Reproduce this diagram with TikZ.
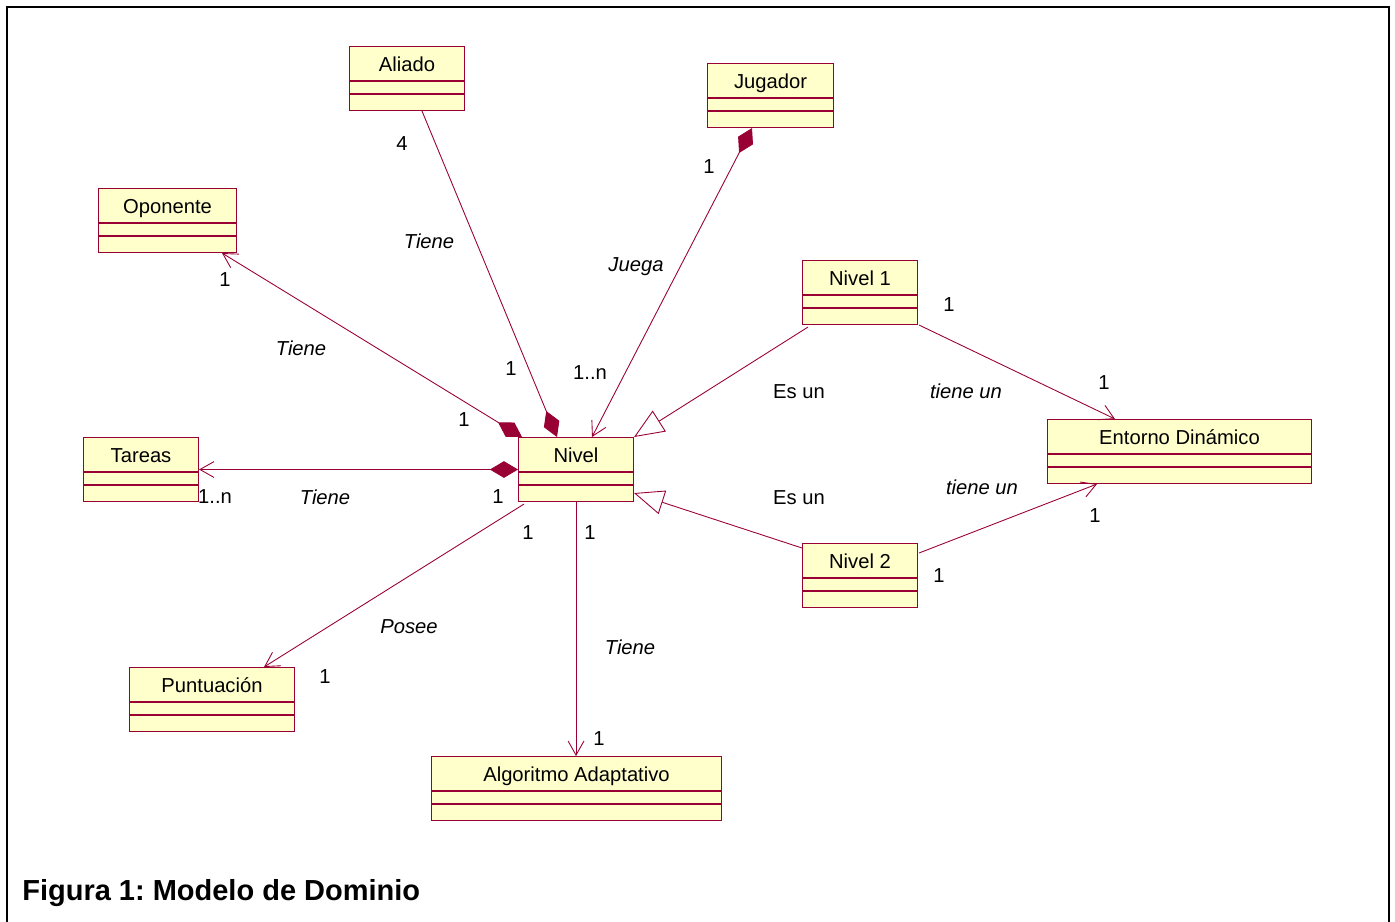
\documentclass[tikz,border=0pt]{standalone}
\usepackage{fontspec}
\setmainfont{Liberation Sans}
\usetikzlibrary{arrows.meta, positioning, calc}
\definecolor{umlred}{RGB}{153,0,51}
\definecolor{umlyellow}{RGB}{255,255,204}
\frenchspacing

\tikzset{
  classbox/.style={draw=umlred, fill=umlyellow, line width=0.6pt, anchor=north west,
    inner xsep=0pt, inner ysep=0pt, text height=0.5cm, text depth=0.78cm,
    font=\fontsize{11.5}{13}\selectfont},
  assoc/.style={draw=umlred, line width=0.5pt},
  comp/.tip={Diamond[length=16pt, width=9.5pt, fill=umlred]},
  nav/.tip={Straight Barb[length=8pt, width=9pt]},
  gen/.tip={Triangle[open, length=17pt, width=14pt, fill=white]},
  mult/.style={font=\fontsize{11.5}{13}\selectfont, inner sep=1pt},
  role/.style={font=\fontsize{11.5}{13}\selectfont\itshape, inner sep=1pt}
}

\begin{document}
\begin{tikzpicture}[x=0.02cm, y=-0.02cm]
  \useasboundingbox (0,0) rectangle (1395,922);
  \draw[line width=0.04cm] (7,930) -- (7,7) -- (1389,7) -- (1389,930);

  % classes
  \node[classbox, minimum width=2.3cm] (aliado) at (349,46) {Aliado};
  \node[classbox, minimum width=2.52cm] (jugador) at (707,63) {Jugador};
  \node[classbox, minimum width=2.76cm] (oponente) at (98,188) {Oponente};
  \node[classbox, minimum width=2.3cm] (tareas) at (83,437) {Tareas};
  \node[classbox, minimum width=2.3cm] (nivel) at (518,437) {Nivel};
  \node[classbox, minimum width=2.3cm] (nivel1) at (802,260) {Nivel 1};
  \node[classbox, minimum width=2.3cm] (nivel2) at (802,543) {Nivel 2};
  \node[classbox, minimum width=5.28cm] (entorno) at (1047,419) {Entorno Dinámico};
  \node[classbox, minimum width=3.3cm] (puntuacion) at (129,667) {Puntuación};
  \node[classbox, minimum width=5.8cm] (algoritmo) at (431,756) {Algoritmo Adaptativo};

  \foreach \c in {aliado,jugador,oponente,tareas,nivel,nivel1,nivel2,entorno,puntuacion,algoritmo} {
    \draw[umlred, line width=0.6pt] ($(\c.north west)+(0,35)$) -- ($(\c.north east)+(0,35)$);
    \draw[umlred, line width=0.6pt] ($(\c.north west)+(0,48)$) -- ($(\c.north east)+(0,48)$);
  }

  % associations
  \draw[assoc, {comp}-] ($(nivel.north west)+(39,0)$) -- ($(aliado.south west)+(73,0)$);
  \draw[assoc, {comp}-{nav}] ($(jugador.south west)+(45,0)$) -- ($(nivel.north west)+(74,0)$);
  \draw[assoc, {comp}-{nav}] ($(nivel.north west)+(4,0)$) -- ($(oponente.south west)+(124,0)$);
  \draw[assoc, {comp}-{nav}] (nivel.west) -- (tareas.east);
  \draw[assoc, -{nav}] ($(nivel.south west)+(6,2)$) -- ($(puntuacion.north west)+(135,0)$);
  \draw[assoc, -{nav}] (nivel.south) -- (nivel.south |- algoritmo.north);
  \draw[assoc, -{gen}] ($(nivel1.south west)+(6,2)$) -- (nivel.north east);
  \draw[assoc, -{gen}] ($(nivel2.north west)+(0,5)$) -- ($(nivel.south east)+(0,-9)$);
  \draw[assoc, -{nav}] ($(nivel1.south east)+(1,0)$) -- ($(entorno.north west)+(68,0)$);
  \draw[assoc, -{nav}] ($(nivel2.north east)+(1,10)$) -- ($(entorno.south west)+(50,0)$);

  % multiplicities
  \foreach \x/\y/\t [count=\i] in {402/144/4, 511/369/1, 709/167/1, 590/373/1..n,
      225/280/1, 464/420/1, 215/497/1..n, 498/497/1, 528/533/1, 325/677/1,
      590/533/1, 599/739/1, 949/305/1, 1104/383/1, 1095/516/1, 939/576/1}
    \node[mult] (m\i) at (\x,\y) {\t};

  % roles
  \foreach \x/\y/\t [count=\i] in {429/241/Tiene, 636/267/Juega, 301/348/Tiene,
      325/497/Tiene, 409/627/Posee, 630/647/Tiene, 966/391/tiene un, 982/487/tiene un}
    \node[role] (r\i) at (\x,\y) {\t};
  \node[mult] (g1) at (799,392) {Es un};
  \node[mult] (g2) at (799,498) {Es un};

  \node[anchor=west, inner sep=0pt, font=\fontsize{16.5}{19}\selectfont\bfseries] (caption) at (22,893) {Figura 1: Modelo de Dominio};
\end{tikzpicture}
\end{document}
